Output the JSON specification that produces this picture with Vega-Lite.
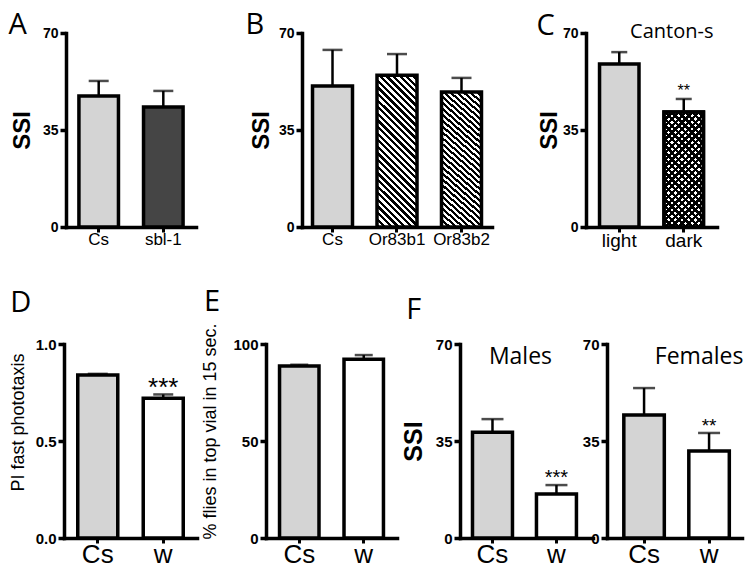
{
"$schema":"https://vega.github.io/schema/vega-lite/v6.json",
"padding":{"left":8,"top":11,"right":5,"bottom":5},
"datasets":{
 "A":[{"g":"Cs","mean":47.3,"upper":52.7},{"g":"sbl-1","mean":43.3,"upper":49.1}],
 "B":[{"g":"Cs","mean":50.9,"upper":63.9},{"g":"Or83b1","mean":54.8,"upper":62.4},{"g":"Or83b2","mean":48.7,"upper":53.8}],
 "C":[{"g":"light","mean":58.8,"upper":63.1,"sig":""},{"g":"dark","mean":41.5,"upper":46.2,"sig":"**"}],
 "D":[{"g":"Cs","mean":0.84,"upper":0.846,"sig":""},{"g":"w","mean":0.72,"upper":0.74,"sig":"***"}],
 "E":[{"g":"Cs","mean":88.6,"upper":89.3},{"g":"w","mean":92.2,"upper":94.3}],
 "Fm":[{"g":"Cs","mean":38.2,"upper":42.9,"sig":""},{"g":"w","mean":15.9,"upper":19.1,"sig":"***"}],
 "Ff":[{"g":"Cs","mean":44.4,"upper":54.1,"sig":""},{"g":"w","mean":31.4,"upper":37.9,"sig":"**"}],
 "Clab":[{"g":"dark","label":"Canton-s"}],
 "Fmlab":[{"g":"w","label":"Males"}],
 "Fflab":[{"g":"w","label":"Females"}]
},
"config":{
 "view":{"stroke":null},
 "axis":{"domainColor":"#000","domainWidth":3.5,"domainCap":"square","tickColor":"#000","tickWidth":3.5,"labelColor":"#000","titleColor":"#000","labelFont":"Liberation Sans","titleFont":"Liberation Sans","grid":false},
 "axisY":{"labelFontWeight":"bold","tickSize":6,"labelPadding":2,"labelFontSize":14},
 "axisX":{"labelAngle":0,"tickSize":5,"tickWidth":3,"labelPadding":-1,"labelFontSize":17,"labelFontWeight":"normal"},
 "title":{"font":"Open Sans","fontSize":29,"fontWeight":"normal","anchor":"start","frame":"bounds","baseline":"alphabetic","offset":0,"color":"#000"},
 "text":{"font":"Liberation Sans","color":"#000"}
},
"spacing":311,
"bounds":"flush",
"vconcat":[
 {"spacing":0,"bounds":"flush","hconcat":[
  {"width":2,"height":1,"data":{"values":[]},"mark":"point"},
  {"width":130,"height":194,"title":{"text":"A","dx":-2,"dy":18},"data":{"name":"A"},
   "encoding":{"x":{"field":"g","type":"nominal","title":null,"scale":{"domain":["Cs","sbl-1"],"paddingInner":0.388,"paddingOuter":0.2}}},
   "layer":[
    {"mark":{"type":"rule","strokeWidth":2.5,"color":"#000"},"encoding":{"y":{"field":"mean","type":"quantitative","scale":{"domain":[0,70],"nice":false},"axis":{"values":[0,35,70],"title":"SSI","titleFontSize":24,"titleFontWeight":"bold","titlePadding":8}},"y2":{"field":"upper"}}},
    {"mark":{"type":"tick","orient":"horizontal","size":20,"thickness":2.5,"color":"#000"},"encoding":{"y":{"field":"upper","type":"quantitative","scale":{"domain":[0,70],"nice":false}}}},
    {"mark":{"type":"bar","stroke":"#000","strokeWidth":3.5},"encoding":{"y":{"field":"mean","type":"quantitative","scale":{"domain":[0,70],"nice":false}},"fill":{"condition":{"test":"datum.g === 'Cs'","value":"#d4d4d4"},"value":"#454545"}}}
   ]},
  {"width":106,"height":1,"data":{"values":[]},"mark":"point"},
  {"width":190,"height":194,"title":{"text":"B","dx":-4,"dy":18},"data":{"name":"B"},
   "encoding":{"x":{"field":"g","type":"nominal","title":null,"scale":{"domain":["Cs","Or83b1","Or83b2"],"paddingInner":0.38,"paddingOuter":0.163}}},
   "layer":[
    {"mark":{"type":"rule","strokeWidth":2.5,"color":"#000"},"encoding":{"y":{"field":"mean","type":"quantitative","scale":{"domain":[0,70],"nice":false},"axis":{"values":[0,35,70],"title":"SSI","titleFontSize":24,"titleFontWeight":"bold","titlePadding":5}},"y2":{"field":"upper"}}},
    {"mark":{"type":"tick","orient":"horizontal","size":20,"thickness":2.5,"color":"#000"},"encoding":{"y":{"field":"upper","type":"quantitative","scale":{"domain":[0,70],"nice":false}}}},
    {"mark":{"type":"bar","stroke":"#000","strokeWidth":3.5},"encoding":{"y":{"field":"mean","type":"quantitative","scale":{"domain":[0,70],"nice":false}},
     "fill":{"condition":{"test":"datum.g === 'Cs'","value":"#d4d4d4"},"value":{"gradient":"linear","x1":0,"y1":1,"x2":0.3109,"y2":-0.1813,"stops":[
{"offset":0,"color":"#000"},
{"offset":0.0172,"color":"#000"},{"offset":0.0172,"color":"#fff"},
{"offset":0.0345,"color":"#fff"},{"offset":0.0345,"color":"#000"},
{"offset":0.0517,"color":"#000"},{"offset":0.0517,"color":"#fff"},
{"offset":0.069,"color":"#fff"},{"offset":0.069,"color":"#000"},
{"offset":0.0862,"color":"#000"},{"offset":0.0862,"color":"#fff"},
{"offset":0.1034,"color":"#fff"},{"offset":0.1034,"color":"#000"},
{"offset":0.1207,"color":"#000"},{"offset":0.1207,"color":"#fff"},
{"offset":0.1379,"color":"#fff"},{"offset":0.1379,"color":"#000"},
{"offset":0.1552,"color":"#000"},{"offset":0.1552,"color":"#fff"},
{"offset":0.1724,"color":"#fff"},{"offset":0.1724,"color":"#000"},
{"offset":0.1897,"color":"#000"},{"offset":0.1897,"color":"#fff"},
{"offset":0.2069,"color":"#fff"},{"offset":0.2069,"color":"#000"},
{"offset":0.2241,"color":"#000"},{"offset":0.2241,"color":"#fff"},
{"offset":0.2414,"color":"#fff"},{"offset":0.2414,"color":"#000"},
{"offset":0.2586,"color":"#000"},{"offset":0.2586,"color":"#fff"},
{"offset":0.2759,"color":"#fff"},{"offset":0.2759,"color":"#000"},
{"offset":0.2931,"color":"#000"},{"offset":0.2931,"color":"#fff"},
{"offset":0.3103,"color":"#fff"},{"offset":0.3103,"color":"#000"},
{"offset":0.3276,"color":"#000"},{"offset":0.3276,"color":"#fff"},
{"offset":0.3448,"color":"#fff"},{"offset":0.3448,"color":"#000"},
{"offset":0.3621,"color":"#000"},{"offset":0.3621,"color":"#fff"},
{"offset":0.3793,"color":"#fff"},{"offset":0.3793,"color":"#000"},
{"offset":0.3966,"color":"#000"},{"offset":0.3966,"color":"#fff"},
{"offset":0.4138,"color":"#fff"},{"offset":0.4138,"color":"#000"},
{"offset":0.431,"color":"#000"},{"offset":0.431,"color":"#fff"},
{"offset":0.4483,"color":"#fff"},{"offset":0.4483,"color":"#000"},
{"offset":0.4655,"color":"#000"},{"offset":0.4655,"color":"#fff"},
{"offset":0.4828,"color":"#fff"},{"offset":0.4828,"color":"#000"},
{"offset":0.5,"color":"#000"},{"offset":0.5,"color":"#fff"},
{"offset":0.5172,"color":"#fff"},{"offset":0.5172,"color":"#000"},
{"offset":0.5345,"color":"#000"},{"offset":0.5345,"color":"#fff"},
{"offset":0.5517,"color":"#fff"},{"offset":0.5517,"color":"#000"},
{"offset":0.569,"color":"#000"},{"offset":0.569,"color":"#fff"},
{"offset":0.5862,"color":"#fff"},{"offset":0.5862,"color":"#000"},
{"offset":0.6034,"color":"#000"},{"offset":0.6034,"color":"#fff"},
{"offset":0.6207,"color":"#fff"},{"offset":0.6207,"color":"#000"},
{"offset":0.6379,"color":"#000"},{"offset":0.6379,"color":"#fff"},
{"offset":0.6552,"color":"#fff"},{"offset":0.6552,"color":"#000"},
{"offset":0.6724,"color":"#000"},{"offset":0.6724,"color":"#fff"},
{"offset":0.6897,"color":"#fff"},{"offset":0.6897,"color":"#000"},
{"offset":0.7069,"color":"#000"},{"offset":0.7069,"color":"#fff"},
{"offset":0.7241,"color":"#fff"},{"offset":0.7241,"color":"#000"},
{"offset":0.7414,"color":"#000"},{"offset":0.7414,"color":"#fff"},
{"offset":0.7586,"color":"#fff"},{"offset":0.7586,"color":"#000"},
{"offset":0.7759,"color":"#000"},{"offset":0.7759,"color":"#fff"},
{"offset":0.7931,"color":"#fff"},{"offset":0.7931,"color":"#000"},
{"offset":0.8103,"color":"#000"},{"offset":0.8103,"color":"#fff"},
{"offset":0.8276,"color":"#fff"},{"offset":0.8276,"color":"#000"},
{"offset":0.8448,"color":"#000"},{"offset":0.8448,"color":"#fff"},
{"offset":0.8621,"color":"#fff"},{"offset":0.8621,"color":"#000"},
{"offset":0.8793,"color":"#000"},{"offset":0.8793,"color":"#fff"},
{"offset":0.8966,"color":"#fff"},{"offset":0.8966,"color":"#000"},
{"offset":0.9138,"color":"#000"},{"offset":0.9138,"color":"#fff"},
{"offset":0.931,"color":"#fff"},{"offset":0.931,"color":"#000"},
{"offset":0.9483,"color":"#000"},{"offset":0.9483,"color":"#fff"},
{"offset":0.9655,"color":"#fff"},{"offset":0.9655,"color":"#000"},
{"offset":0.9828,"color":"#000"},{"offset":0.9828,"color":"#fff"},
{"offset":1,"color":"#fff"}]}}}}
   ]},
  {"width":94,"height":1,"data":{"values":[]},"mark":"point"},
  {"width":131,"height":194,"title":{"text":"C","dx":-1,"dy":23},"data":{"name":"C"},
   "encoding":{"x":{"field":"g","type":"nominal","title":null,"scale":{"domain":["light","dark"],"paddingInner":0.388,"paddingOuter":0.21},"axis":{"labelFontSize":19}}},
   "layer":[
    {"mark":{"type":"rule","strokeWidth":2.5,"color":"#000"},"encoding":{"y":{"field":"mean","type":"quantitative","scale":{"domain":[0,70],"nice":false},"axis":{"values":[0,35,70],"title":"SSI","titleFontSize":24,"titleFontWeight":"bold","titlePadding":1}},"y2":{"field":"upper"}}},
    {"mark":{"type":"tick","orient":"horizontal","size":16,"thickness":2.5,"color":"#000"},"encoding":{"y":{"field":"upper","type":"quantitative","scale":{"domain":[0,70],"nice":false}}}},
    {"mark":{"type":"bar","stroke":"#000","strokeWidth":3.5},"encoding":{"y":{"field":"mean","type":"quantitative","scale":{"domain":[0,70],"nice":false}},
     "fill":{"condition":{"test":"datum.g === 'light'","value":"#d4d4d4"},"value":{"gradient":"linear","x1":0,"y1":1,"x2":0.413,"y2":-0.202,"stops":[
{"offset":0,"color":"#000"},
{"offset":0.0217,"color":"#000"},{"offset":0.0217,"color":"#fff"},
{"offset":0.0435,"color":"#fff"},{"offset":0.0435,"color":"#000"},
{"offset":0.0652,"color":"#000"},{"offset":0.0652,"color":"#fff"},
{"offset":0.087,"color":"#fff"},{"offset":0.087,"color":"#000"},
{"offset":0.1087,"color":"#000"},{"offset":0.1087,"color":"#fff"},
{"offset":0.1304,"color":"#fff"},{"offset":0.1304,"color":"#000"},
{"offset":0.1522,"color":"#000"},{"offset":0.1522,"color":"#fff"},
{"offset":0.1739,"color":"#fff"},{"offset":0.1739,"color":"#000"},
{"offset":0.1957,"color":"#000"},{"offset":0.1957,"color":"#fff"},
{"offset":0.2174,"color":"#fff"},{"offset":0.2174,"color":"#000"},
{"offset":0.2391,"color":"#000"},{"offset":0.2391,"color":"#fff"},
{"offset":0.2609,"color":"#fff"},{"offset":0.2609,"color":"#000"},
{"offset":0.2826,"color":"#000"},{"offset":0.2826,"color":"#fff"},
{"offset":0.3043,"color":"#fff"},{"offset":0.3043,"color":"#000"},
{"offset":0.3261,"color":"#000"},{"offset":0.3261,"color":"#fff"},
{"offset":0.3478,"color":"#fff"},{"offset":0.3478,"color":"#000"},
{"offset":0.3696,"color":"#000"},{"offset":0.3696,"color":"#fff"},
{"offset":0.3913,"color":"#fff"},{"offset":0.3913,"color":"#000"},
{"offset":0.413,"color":"#000"},{"offset":0.413,"color":"#fff"},
{"offset":0.4348,"color":"#fff"},{"offset":0.4348,"color":"#000"},
{"offset":0.4565,"color":"#000"},{"offset":0.4565,"color":"#fff"},
{"offset":0.4783,"color":"#fff"},{"offset":0.4783,"color":"#000"},
{"offset":0.5,"color":"#000"},{"offset":0.5,"color":"#fff"},
{"offset":0.5217,"color":"#fff"},{"offset":0.5217,"color":"#000"},
{"offset":0.5435,"color":"#000"},{"offset":0.5435,"color":"#fff"},
{"offset":0.5652,"color":"#fff"},{"offset":0.5652,"color":"#000"},
{"offset":0.587,"color":"#000"},{"offset":0.587,"color":"#fff"},
{"offset":0.6087,"color":"#fff"},{"offset":0.6087,"color":"#000"},
{"offset":0.6304,"color":"#000"},{"offset":0.6304,"color":"#fff"},
{"offset":0.6522,"color":"#fff"},{"offset":0.6522,"color":"#000"},
{"offset":0.6739,"color":"#000"},{"offset":0.6739,"color":"#fff"},
{"offset":0.6957,"color":"#fff"},{"offset":0.6957,"color":"#000"},
{"offset":0.7174,"color":"#000"},{"offset":0.7174,"color":"#fff"},
{"offset":0.7391,"color":"#fff"},{"offset":0.7391,"color":"#000"},
{"offset":0.7609,"color":"#000"},{"offset":0.7609,"color":"#fff"},
{"offset":0.7826,"color":"#fff"},{"offset":0.7826,"color":"#000"},
{"offset":0.8043,"color":"#000"},{"offset":0.8043,"color":"#fff"},
{"offset":0.8261,"color":"#fff"},{"offset":0.8261,"color":"#000"},
{"offset":0.8478,"color":"#000"},{"offset":0.8478,"color":"#fff"},
{"offset":0.8696,"color":"#fff"},{"offset":0.8696,"color":"#000"},
{"offset":0.8913,"color":"#000"},{"offset":0.8913,"color":"#fff"},
{"offset":0.913,"color":"#fff"},{"offset":0.913,"color":"#000"},
{"offset":0.9348,"color":"#000"},{"offset":0.9348,"color":"#fff"},
{"offset":0.9565,"color":"#fff"},{"offset":0.9565,"color":"#000"},
{"offset":0.9783,"color":"#000"},{"offset":0.9783,"color":"#fff"},
{"offset":1,"color":"#fff"}]}}}},
    {"transform":[{"filter":"datum.g === 'dark'"}],"mark":{"type":"bar","stroke":"#000","strokeWidth":3.5,"fill":{"gradient":"linear","x1":0,"y1":0,"x2":0.413,"y2":1.202,"stops":[
{"offset":0,"color":"#000"},
{"offset":0.0217,"color":"#000"},{"offset":0.0217,"color":"rgba(0,0,0,0)"},
{"offset":0.0435,"color":"rgba(0,0,0,0)"},{"offset":0.0435,"color":"#000"},
{"offset":0.0652,"color":"#000"},{"offset":0.0652,"color":"rgba(0,0,0,0)"},
{"offset":0.087,"color":"rgba(0,0,0,0)"},{"offset":0.087,"color":"#000"},
{"offset":0.1087,"color":"#000"},{"offset":0.1087,"color":"rgba(0,0,0,0)"},
{"offset":0.1304,"color":"rgba(0,0,0,0)"},{"offset":0.1304,"color":"#000"},
{"offset":0.1522,"color":"#000"},{"offset":0.1522,"color":"rgba(0,0,0,0)"},
{"offset":0.1739,"color":"rgba(0,0,0,0)"},{"offset":0.1739,"color":"#000"},
{"offset":0.1957,"color":"#000"},{"offset":0.1957,"color":"rgba(0,0,0,0)"},
{"offset":0.2174,"color":"rgba(0,0,0,0)"},{"offset":0.2174,"color":"#000"},
{"offset":0.2391,"color":"#000"},{"offset":0.2391,"color":"rgba(0,0,0,0)"},
{"offset":0.2609,"color":"rgba(0,0,0,0)"},{"offset":0.2609,"color":"#000"},
{"offset":0.2826,"color":"#000"},{"offset":0.2826,"color":"rgba(0,0,0,0)"},
{"offset":0.3043,"color":"rgba(0,0,0,0)"},{"offset":0.3043,"color":"#000"},
{"offset":0.3261,"color":"#000"},{"offset":0.3261,"color":"rgba(0,0,0,0)"},
{"offset":0.3478,"color":"rgba(0,0,0,0)"},{"offset":0.3478,"color":"#000"},
{"offset":0.3696,"color":"#000"},{"offset":0.3696,"color":"rgba(0,0,0,0)"},
{"offset":0.3913,"color":"rgba(0,0,0,0)"},{"offset":0.3913,"color":"#000"},
{"offset":0.413,"color":"#000"},{"offset":0.413,"color":"rgba(0,0,0,0)"},
{"offset":0.4348,"color":"rgba(0,0,0,0)"},{"offset":0.4348,"color":"#000"},
{"offset":0.4565,"color":"#000"},{"offset":0.4565,"color":"rgba(0,0,0,0)"},
{"offset":0.4783,"color":"rgba(0,0,0,0)"},{"offset":0.4783,"color":"#000"},
{"offset":0.5,"color":"#000"},{"offset":0.5,"color":"rgba(0,0,0,0)"},
{"offset":0.5217,"color":"rgba(0,0,0,0)"},{"offset":0.5217,"color":"#000"},
{"offset":0.5435,"color":"#000"},{"offset":0.5435,"color":"rgba(0,0,0,0)"},
{"offset":0.5652,"color":"rgba(0,0,0,0)"},{"offset":0.5652,"color":"#000"},
{"offset":0.587,"color":"#000"},{"offset":0.587,"color":"rgba(0,0,0,0)"},
{"offset":0.6087,"color":"rgba(0,0,0,0)"},{"offset":0.6087,"color":"#000"},
{"offset":0.6304,"color":"#000"},{"offset":0.6304,"color":"rgba(0,0,0,0)"},
{"offset":0.6522,"color":"rgba(0,0,0,0)"},{"offset":0.6522,"color":"#000"},
{"offset":0.6739,"color":"#000"},{"offset":0.6739,"color":"rgba(0,0,0,0)"},
{"offset":0.6957,"color":"rgba(0,0,0,0)"},{"offset":0.6957,"color":"#000"},
{"offset":0.7174,"color":"#000"},{"offset":0.7174,"color":"rgba(0,0,0,0)"},
{"offset":0.7391,"color":"rgba(0,0,0,0)"},{"offset":0.7391,"color":"#000"},
{"offset":0.7609,"color":"#000"},{"offset":0.7609,"color":"rgba(0,0,0,0)"},
{"offset":0.7826,"color":"rgba(0,0,0,0)"},{"offset":0.7826,"color":"#000"},
{"offset":0.8043,"color":"#000"},{"offset":0.8043,"color":"rgba(0,0,0,0)"},
{"offset":0.8261,"color":"rgba(0,0,0,0)"},{"offset":0.8261,"color":"#000"},
{"offset":0.8478,"color":"#000"},{"offset":0.8478,"color":"rgba(0,0,0,0)"},
{"offset":0.8696,"color":"rgba(0,0,0,0)"},{"offset":0.8696,"color":"#000"},
{"offset":0.8913,"color":"#000"},{"offset":0.8913,"color":"rgba(0,0,0,0)"},
{"offset":0.913,"color":"rgba(0,0,0,0)"},{"offset":0.913,"color":"#000"},
{"offset":0.9348,"color":"#000"},{"offset":0.9348,"color":"rgba(0,0,0,0)"},
{"offset":0.9565,"color":"rgba(0,0,0,0)"},{"offset":0.9565,"color":"#000"},
{"offset":0.9783,"color":"#000"},{"offset":0.9783,"color":"rgba(0,0,0,0)"},
{"offset":1,"color":"rgba(0,0,0,0)"}]}},
     "encoding":{"y":{"field":"mean","type":"quantitative","scale":{"domain":[0,70],"nice":false}}}},
    {"transform":[{"filter":"datum.sig != ''"}],"mark":{"type":"text","fontSize":16,"baseline":"alphabetic","dy":-3},"encoding":{"y":{"field":"upper","type":"quantitative","scale":{"domain":[0,70],"nice":false}},"text":{"field":"sig"}}},
    {"data":{"name":"Clab"},"mark":{"type":"text","font":"Open Sans","fontSize":20,"baseline":"middle","dx":-12,"dy":-1},"encoding":{"y":{"datum":70},"text":{"field":"label"}}}
   ]}
 ]},
 {"spacing":0,"bounds":"flush","hconcat":[
  {"width":133,"height":194,"title":{"text":"D","dx":1,"dy":-15},"data":{"name":"D"},
   "encoding":{"x":{"field":"g","type":"nominal","title":null,"scale":{"domain":["Cs","w"],"paddingInner":0.389,"paddingOuter":0.21},"axis":{"labelFontSize":26,"labelPadding":-2}}},
   "layer":[
    {"mark":{"type":"rule","strokeWidth":2.5,"color":"#000"},"encoding":{"y":{"field":"mean","type":"quantitative","scale":{"domain":[0,1],"nice":false},"axis":{"values":[0,0.5,1],"format":".1f","labelFontSize":15,"title":"PI fast phototaxis","titleFontSize":18,"titleFontWeight":"normal","titlePadding":8,"titleY":78}},"y2":{"field":"upper"}}},
    {"mark":{"type":"tick","orient":"horizontal","size":20,"thickness":2.5,"color":"#000"},"encoding":{"y":{"field":"upper","type":"quantitative","scale":{"domain":[0,1],"nice":false}}}},
    {"mark":{"type":"bar","stroke":"#000","strokeWidth":3.5},"encoding":{"y":{"field":"mean","type":"quantitative","scale":{"domain":[0,1],"nice":false}},"fill":{"condition":{"test":"datum.g === 'Cs'","value":"#d4d4d4"},"value":"#fff"}}},
    {"transform":[{"filter":"datum.sig != ''"}],"mark":{"type":"text","fontSize":26,"baseline":"alphabetic","dy":2},"encoding":{"y":{"field":"upper","type":"quantitative","scale":{"domain":[0,1],"nice":false}},"text":{"field":"sig"}}}
   ]},
  {"width":69,"height":1,"data":{"values":[]},"mark":"point"},
  {"width":131,"height":194,"title":{"text":"E","dx":2,"dy":-2},"data":{"name":"E"},
   "encoding":{"x":{"field":"g","type":"nominal","title":null,"scale":{"domain":["Cs","w"],"paddingInner":0.388,"paddingOuter":0.21},"axis":{"labelFontSize":26,"labelPadding":-2}}},
   "layer":[
    {"mark":{"type":"rule","strokeWidth":2.5,"color":"#000"},"encoding":{"y":{"field":"mean","type":"quantitative","scale":{"domain":[0,100],"nice":false},"axis":{"values":[0,50,100],"labelFontSize":15,"title":"% flies in top vial in 15 sec.","titleFontSize":18,"titleFontWeight":"normal","titlePadding":13,"titleY":87}},"y2":{"field":"upper"}}},
    {"mark":{"type":"tick","orient":"horizontal","size":18,"thickness":2.5,"color":"#000"},"encoding":{"y":{"field":"upper","type":"quantitative","scale":{"domain":[0,100],"nice":false}}}},
    {"mark":{"type":"bar","stroke":"#000","strokeWidth":3.5},"encoding":{"y":{"field":"mean","type":"quantitative","scale":{"domain":[0,100],"nice":false}},"fill":{"condition":{"test":"datum.g === 'Cs'","value":"#d4d4d4"},"value":"#fff"}}}
   ]},
  {"width":63,"height":1,"data":{"values":[]},"mark":"point"},
  {"width":133,"height":194,"title":{"text":"F","dx":5,"dy":-8},"data":{"name":"Fm"},
   "encoding":{"x":{"field":"g","type":"nominal","title":null,"scale":{"domain":["Cs","w"],"paddingInner":0.375,"paddingOuter":0.227,"align":0.43},"axis":{"labelFontSize":26,"labelPadding":-2}}},
   "layer":[
    {"mark":{"type":"rule","strokeWidth":2.5,"color":"#000"},"encoding":{"y":{"field":"mean","type":"quantitative","scale":{"domain":[0,70],"nice":false},"axis":{"values":[0,35,70],"labelFontSize":15,"title":"SSI","titleFontSize":25,"titleFontWeight":"bold","titlePadding":9}},"y2":{"field":"upper"}}},
    {"mark":{"type":"tick","orient":"horizontal","size":22,"thickness":2.5,"color":"#000"},"encoding":{"y":{"field":"upper","type":"quantitative","scale":{"domain":[0,70],"nice":false}}}},
    {"mark":{"type":"bar","stroke":"#000","strokeWidth":3.5},"encoding":{"y":{"field":"mean","type":"quantitative","scale":{"domain":[0,70],"nice":false}},"fill":{"condition":{"test":"datum.g === 'Cs'","value":"#d4d4d4"},"value":"#fff"}}},
    {"transform":[{"filter":"datum.sig != ''"}],"mark":{"type":"text","fontSize":20,"baseline":"alphabetic","dy":-1},"encoding":{"y":{"field":"upper","type":"quantitative","scale":{"domain":[0,70],"nice":false}},"text":{"field":"sig"}}},
    {"data":{"name":"Fmlab"},"mark":{"type":"text","font":"Open Sans","fontSize":23,"baseline":"middle","dx":-36,"dy":13},"encoding":{"y":{"datum":70},"text":{"field":"label"}}}
   ]},
  {"width":14,"height":1,"data":{"values":[]},"mark":"point"},
  {"width":135,"height":194,"data":{"name":"Ff"},
   "encoding":{"x":{"field":"g","type":"nominal","title":null,"scale":{"domain":["Cs","w"],"paddingInner":0.377,"paddingOuter":0.227,"align":0.57},"axis":{"labelFontSize":26,"labelPadding":-2}}},
   "layer":[
    {"mark":{"type":"rule","strokeWidth":2.5,"color":"#000"},"encoding":{"y":{"field":"mean","type":"quantitative","scale":{"domain":[0,70],"nice":false},"axis":{"values":[0,35,70],"labelFontSize":15,"title":null}},"y2":{"field":"upper"}}},
    {"mark":{"type":"tick","orient":"horizontal","size":22,"thickness":2.5,"color":"#000"},"encoding":{"y":{"field":"upper","type":"quantitative","scale":{"domain":[0,70],"nice":false}}}},
    {"mark":{"type":"bar","stroke":"#000","strokeWidth":3.5},"encoding":{"y":{"field":"mean","type":"quantitative","scale":{"domain":[0,70],"nice":false}},"fill":{"condition":{"test":"datum.g === 'Cs'","value":"#d4d4d4"},"value":"#fff"}}},
    {"transform":[{"filter":"datum.sig != ''"}],"mark":{"type":"text","fontSize":19,"baseline":"alphabetic","dy":-1},"encoding":{"y":{"field":"upper","type":"quantitative","scale":{"domain":[0,70],"nice":false}},"text":{"field":"sig"}}},
    {"data":{"name":"Fflab"},"mark":{"type":"text","font":"Open Sans","fontSize":23,"baseline":"middle","dx":-10,"dy":13},"encoding":{"y":{"datum":70},"text":{"field":"label"}}}
   ]}
 ]}
]
}
